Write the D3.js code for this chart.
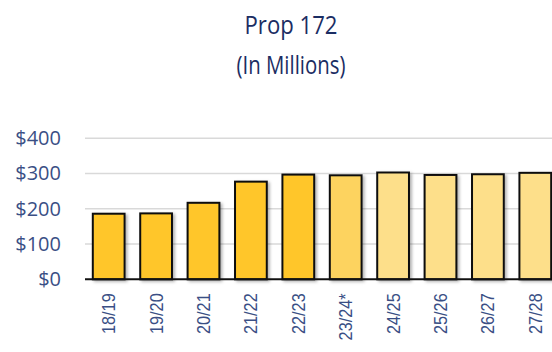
<!DOCTYPE html>
<html>
<head>
<meta charset="utf-8">
<script src="https://cdn.jsdelivr.net/npm/d3@7"></script>
<style>
  html, body { margin: 0; padding: 0; background: #fff; }
  svg { display: block; font-family: "Open Sans", "Noto Sans", sans-serif; }
</style>
</head>
<body>
<svg id="chart" width="552" height="352"></svg>
<script>
// Fiscal years and annual amounts (millions of dollars)
const years = ["18/19", "19/20", "20/21", "21/22", "22/23", "23/24*", "24/25", "25/26", "26/27", "27/28"];
const amounts = [186, 187, 217, 277, 297, 295, 303, 296, 298, 302];
// Fill per bar: actuals, current-year estimate, projections
const fills = ["#FFC629", "#FFC629", "#FFC629", "#FFC629", "#FFC629", "#FDD35E", "#FDDF8A", "#FDDF8A", "#FDDF8A", "#FDDF8A"];
const yTicks = [0, 100, 200, 300, 400];

const svg = d3.select("#chart");
const margin = { left: 85, top: 138.3, bottom: 279.3 };

const x = d3.scaleBand().domain(years).range([margin.left, margin.left + 47.4 * years.length]).paddingInner(0.33).paddingOuter(0.165);
const y = d3.scaleLinear().domain([0, 400]).range([margin.bottom, margin.top]);

// Narrow a text element to a fraction of its natural length
function narrow(sel, factor) {
  sel.each(function () {
    const len = this.getComputedTextLength();
    d3.select(this).attr("textLength", len * factor).attr("lengthAdjust", "spacingAndGlyphs");
  });
}

// Soft shadow under each bar
const defs = svg.append("defs");
const f = defs.append("filter").attr("id", "shadow").attr("x", "-20%").attr("y", "-20%").attr("width", "150%").attr("height", "150%");
f.append("feDropShadow").attr("dx", 2).attr("dy", 1.5).attr("stdDeviation", 1.6).attr("flood-color", "#000").attr("flood-opacity", 0.3);

// Title
svg.append("text").attr("x", 291).attr("y", 34.3).attr("text-anchor", "middle")
  .attr("font-size", 26).attr("fill", "#1B2D63").text("Prop 172")
  .attr("textLength", 93).attr("lengthAdjust", "spacingAndGlyphs");
svg.append("text").attr("x", 291).attr("y", 73.5).attr("text-anchor", "middle")
  .attr("font-size", 26).attr("fill", "#1B2D63").text("(In Millions)")
  .attr("textLength", 109).attr("lengthAdjust", "spacingAndGlyphs");

// Horizontal gridlines
svg.append("g").selectAll("line").data(yTicks.filter(d => d > 0)).join("line")
  .attr("x1", margin.left).attr("x2", 552)
  .attr("y1", d => y(d)).attr("y2", d => y(d))
  .attr("stroke", "#D9D9D9").attr("stroke-width", 1.5);

// Y axis labels
const yAxis = svg.append("g").attr("transform", `translate(${margin.left},0)`)
  .call(d3.axisLeft(y).tickValues(yTicks).tickFormat(d => "$" + d).tickSize(0).tickPadding(24));
yAxis.select(".domain").remove();
yAxis.selectAll("text").attr("font-size", 20).attr("fill", "#3A4F85").attr("font-family", "\"Open Sans\", sans-serif");

// Bars
svg.append("g").selectAll("rect").data(years).join("rect")
  .attr("x", d => x(d))
  .attr("width", x.bandwidth())
  .attr("y", (d, i) => y(amounts[i]))
  .attr("height", (d, i) => y(0) - y(amounts[i]))
  .attr("fill", (d, i) => fills[i])
  .attr("stroke", "#111")
  .attr("stroke-width", 2)
  .attr("filter", "url(#shadow)");

// Baseline
svg.append("line").attr("x1", margin.left).attr("x2", 552)
  .attr("y1", y(0)).attr("y2", y(0)).attr("stroke", "#111").attr("stroke-width", 2);

// X axis labels, rotated
const xAxis = svg.append("g").attr("transform", `translate(0,${y(0)})`)
  .call(d3.axisBottom(x).tickSize(0).tickPadding(0));
xAxis.select(".domain").remove();
xAxis.selectAll("text")
  .attr("font-size", 18.5).attr("fill", "#3A4F85")
  .attr("transform", "rotate(-90)")
  .attr("text-anchor", "end")
  .attr("x", -14).attr("y", 0).attr("dy", "0.35em")
  .call(narrow, 0.88);
</script>
</body>
</html>
